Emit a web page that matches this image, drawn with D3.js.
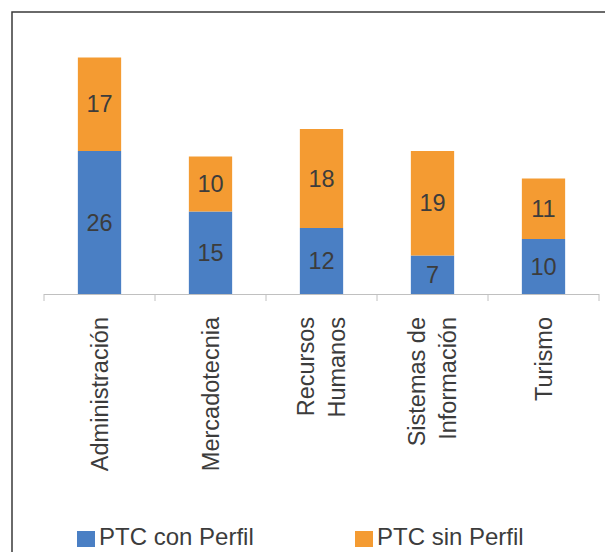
<!DOCTYPE html>
<html>
<head>
<meta charset="utf-8">
<script src="https://cdn.jsdelivr.net/npm/d3@7"></script>
<style>
  body { margin: 0; background: #fff; }
  text { font-family: "Liberation Sans", Arial, sans-serif; fill: #3c3c3c; }
</style>
</head>
<body>
<script>
// categories (line breaks as in the original axis labels)
var categories = ["Administración", "Mercadotecnia", "Recursos Humanos", "Sistemas de Información", "Turismo"];
var categoryLines = [["Administración"], ["Mercadotecnia"], ["Recursos", "Humanos"], ["Sistemas de", "Información"], ["Turismo"]];

// series values
var conPerfil = [26, 15, 12, 7, 10];
var sinPerfil = [17, 10, 18, 19, 11];

var seriesNames = ["PTC con Perfil", "PTC sin Perfil"];
var colors = ["#4a7fc4", "#f49b32"];

var width = 605, height = 552;

var svg = d3.select("body").append("svg")
    .attr("width", width)
    .attr("height", height);

// outer frame (runs off the right and bottom edge like the picture)
svg.append("rect")
    .attr("x", 12).attr("y", 12)
    .attr("width", 620).attr("height", 580)
    .attr("fill", "none")
    .attr("stroke", "#3a3a3a")
    .attr("stroke-width", 1.5);

// scales
var xOuter = d3.scaleBand().domain(categories).range([44, 599]);
var x = xOuter.copy().paddingInner(0.61).paddingOuter(0.305);
var y = d3.scaleLinear().domain([0, 50]).range([294, 19]);

// build stacked data
var table = categories.map(function(c, i) {
  return {cat: c, "PTC con Perfil": conPerfil[i], "PTC sin Perfil": sinPerfil[i]};
});
var stacked = d3.stack().keys(seriesNames)(table);

var layers = svg.selectAll("g.layer")
    .data(stacked)
  .enter().append("g")
    .attr("class", "layer")
    .attr("fill", function(d, i) { return colors[i]; });

layers.selectAll("rect")
    .data(function(d) { return d; })
  .enter().append("rect")
    .attr("x", function(d) { return x(d.data.cat); })
    .attr("width", x.bandwidth())
    .attr("y", function(d) { return y(d[1]); })
    .attr("height", function(d) { return y(d[0]) - y(d[1]); });

// value labels in the middle of each segment
layers.selectAll("text")
    .data(function(d) { return d; })
  .enter().append("text")
    .attr("x", function(d) { return x(d.data.cat) + x.bandwidth() / 2; })
    .attr("y", function(d) { return (y(d[0]) + y(d[1])) / 2; })
    .attr("dy", "0.35em")
    .attr("text-anchor", "middle")
    .style("font-size", "23.5px")
    .text(function(d) { return d[1] - d[0]; });

// category axis line + ticks at band boundaries
var axis = svg.append("g").attr("stroke", "#c0c0c0").attr("stroke-width", 1);
axis.append("line")
    .attr("x1", xOuter.range()[0]).attr("x2", xOuter.range()[1])
    .attr("y1", y(0) + 0.5).attr("y2", y(0) + 0.5);

var tickX = categories.map(function(c) { return xOuter(c); }).concat([xOuter.range()[1]]);
axis.selectAll("line.tick")
    .data(tickX)
  .enter().append("line")
    .attr("class", "tick")
    .attr("x1", function(d) { return d; }).attr("x2", function(d) { return d; })
    .attr("y1", y(0)).attr("y2", y(0) + 7);

// rotated category labels
var lineGap = 31;
var labels = svg.selectAll("text.cat")
    .data(categoryLines)
  .enter().append("text")
    .attr("class", "cat")
    .attr("transform", function(d, i) {
      return "translate(" + (xOuter(categories[i]) + xOuter.bandwidth() / 2) + ",317) rotate(-90)";
    })
    .attr("text-anchor", "end")
    .style("font-size", "23.5px");

labels.selectAll("tspan")
    .data(function(d) { return d.map(function(t, j) { return {t: t, j: j, n: d.length}; }); })
  .enter().append("tspan")
    .attr("x", 0)
    .attr("y", function(d) { return 8 + (d.j - (d.n - 1) / 2) * lineGap; })
    .text(function(d) { return d.t; });

// legend
var legendX = [77, 355];
var legend = svg.selectAll("g.legend")
    .data(seriesNames)
  .enter().append("g")
    .attr("class", "legend")
    .attr("transform", function(d, i) { return "translate(" + legendX[i] + ",531)"; });

legend.append("rect")
    .attr("width", 18).attr("height", 16)
    .attr("fill", function(d, i) { return colors[i]; });

legend.append("text")
    .attr("x", 22)
    .attr("y", 14)
    .style("font-size", "24px")
    .text(function(d) { return d; });
</script>
</body>
</html>
